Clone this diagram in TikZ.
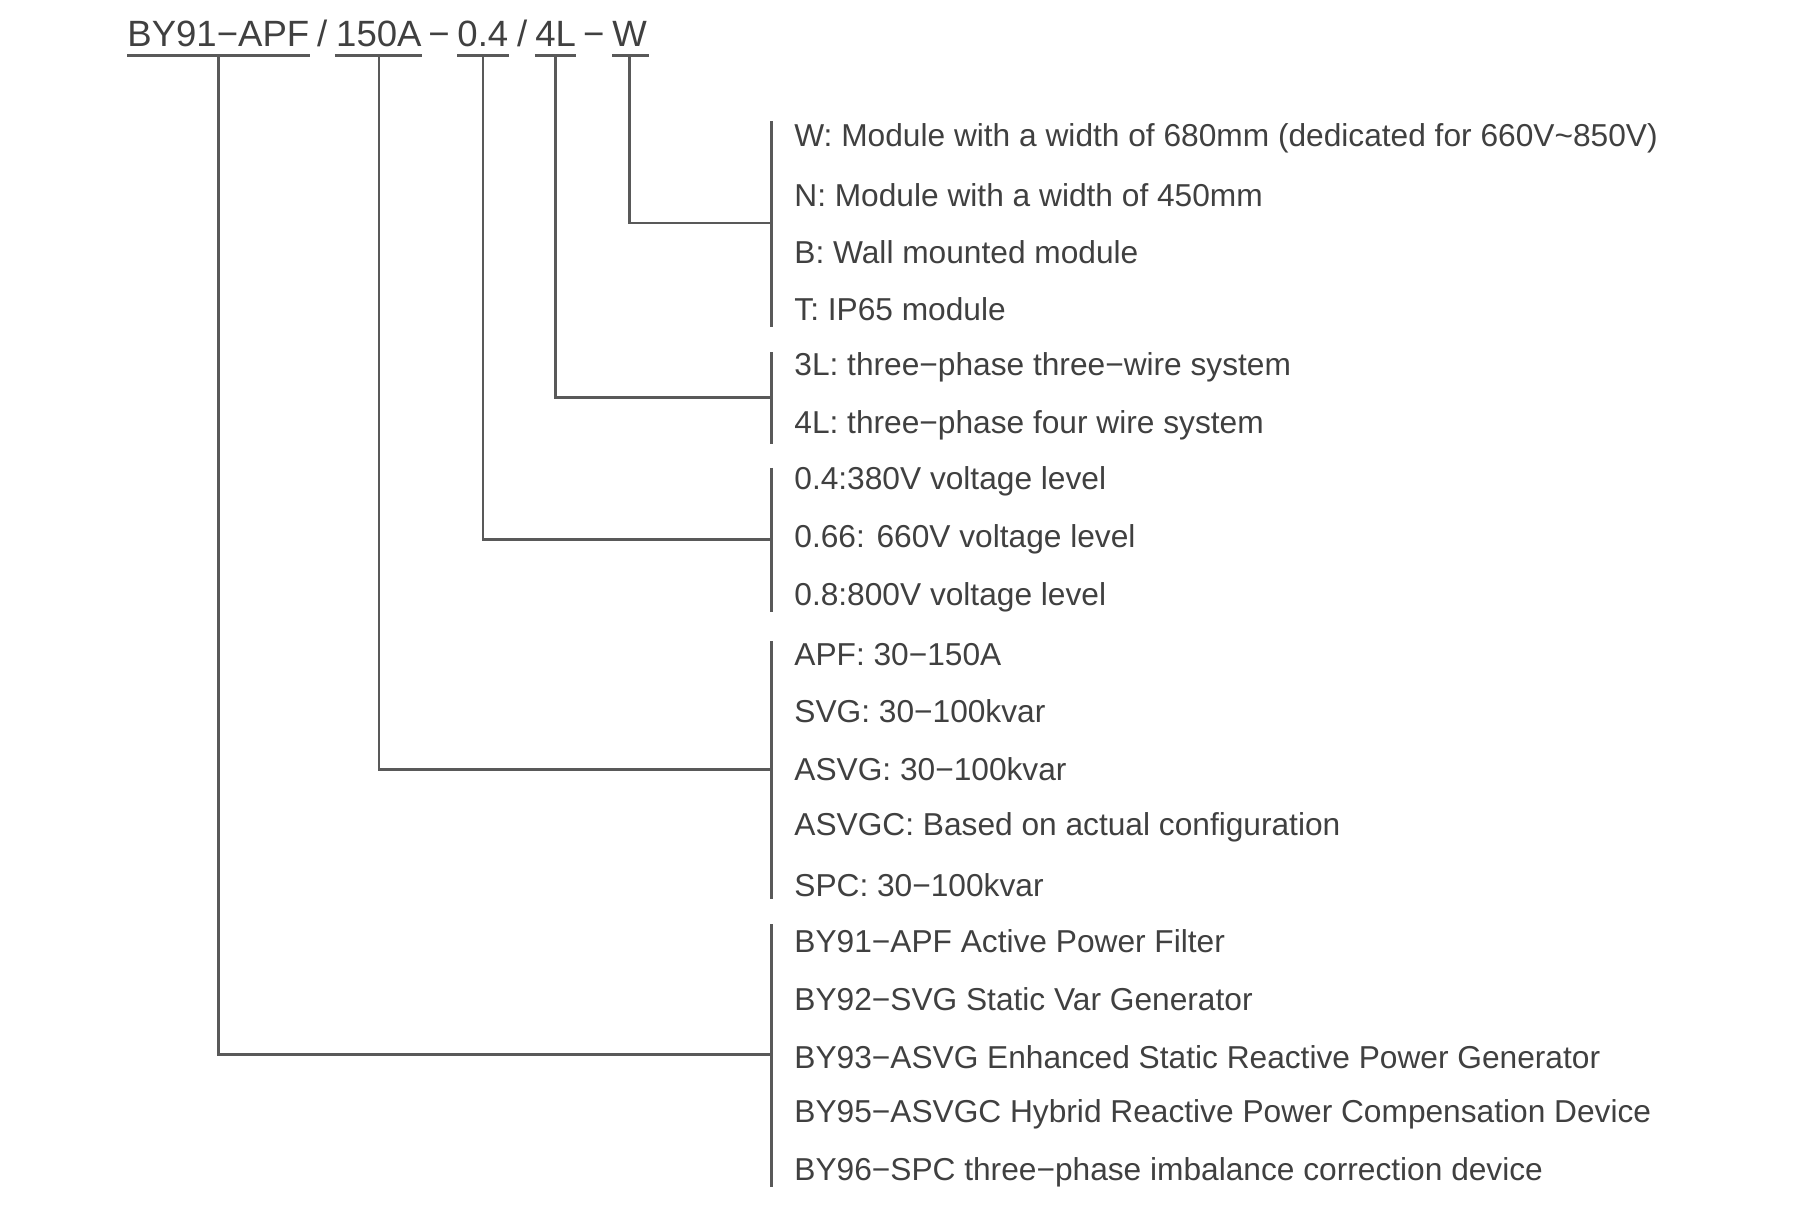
\documentclass[tikz,border=0pt]{standalone}
\usepackage{fontspec}
\setmainfont{Liberation Sans}
\begin{document}
\begin{tikzpicture}[x=0.01cm,y=-0.01cm,
  ln/.style={draw=black!65,line width=0.6pt},
  item/.style={anchor=west,inner sep=0,text=black!75,font=\fontsize{7.8pt}{9pt}\selectfont},
  ttl/.style={anchor=base,inner sep=0,text=black!75,font=\fontsize{9pt}{10pt}\selectfont}]
\useasboundingbox (0,0) rectangle (1560,1046);
% title parts
\node[ttl] (t1) at (189,40) {BY91−APF};
\node[ttl] (s1) at (279,40) {/};
\node[ttl] (t2) at (328,40) {150A};
\node[ttl] (d1) at (380,40) {−};
\node[ttl] (t3) at (418,40) {0.4};
\node[ttl] (s2) at (452,40) {/};
\node[ttl] (t4) at (481,40) {4L};
\node[ttl] (d2) at (514,40) {−};
\node[ttl] (t5) at (545,40) {W};
\foreach \a/\b in {110/268,290/365,396/441,463/499,530/562}
  \draw[ln] (\a,48) -- (\b,48);
\coordinate (u1) at (189,48); \coordinate (u2) at (328,48);
\coordinate (u3) at (418,48); \coordinate (u4) at (481,48);
\coordinate (u5) at (545,48);
% bars
\foreach \n/\a/\b in {b1/105/283,b2/305/384,b3/405/530,b4/555/778,b5/800/1028}{
  \coordinate (\n t) at (668,\a); \coordinate (\n b) at (668,\b);
  \draw[ln] (\n t) -- (\n b);}
\coordinate (c5) at (668,193); \coordinate (c4) at (668,344);
\coordinate (c3) at (668,467); \coordinate (c2) at (668,666);
\coordinate (c1) at (668,913);
\draw[ln] (u5) |- (c5);
\draw[ln] (u4) |- (c4);
\draw[ln] (u3) |- (c3);
\draw[ln] (u2) |- (c2);
\draw[ln] (u1) |- (c1);
% items
\node[item] (w1) at (687,120) {W: Module with a width of 680mm (dedicated for 660V\char"007E 850V)};
\node[item] (w2) at (687,169) {N: Module with a width of 450mm};
\node[item] (w3) at (687,218) {B: Wall mounted module};
\node[item] (w4) at (687,268) {T: IP65 module};
\node[item] (l1) at (687,318) {3L: three−phase three−wire system};
\node[item] (l2) at (687,368) {4L: three−phase four wire system};
\node[item] (v1) at (687,417) {0.4:380V voltage level};
\node[item] (v2) at (687,467) {0.66: 660V voltage level};
\node[item] (v3) at (687,517) {0.8:800V voltage level};
\node[item] (a1) at (687,567) {APF: 30−150A};
\node[item] (a2) at (687,616) {SVG: 30−100kvar};
\node[item] (a3) at (687,666) {ASVG: 30−100kvar};
\node[item] (a4) at (687,716) {ASVGC: Based on actual configuration};
\node[item] (a5) at (687,766) {SPC: 30−100kvar};
\node[item] (p1) at (687,815) {BY91−APF Active Power Filter};
\node[item] (p2) at (687,865) {BY92−SVG Static Var Generator};
\node[item] (p3) at (687,915) {BY93−ASVG Enhanced Static Reactive Power Generator};
\node[item] (p4) at (687,965) {BY95−ASVGC Hybrid Reactive Power Compensation Device};
\node[item] (p5) at (687,1015) {BY96−SPC three−phase imbalance correction device};
\end{tikzpicture}
\end{document}
